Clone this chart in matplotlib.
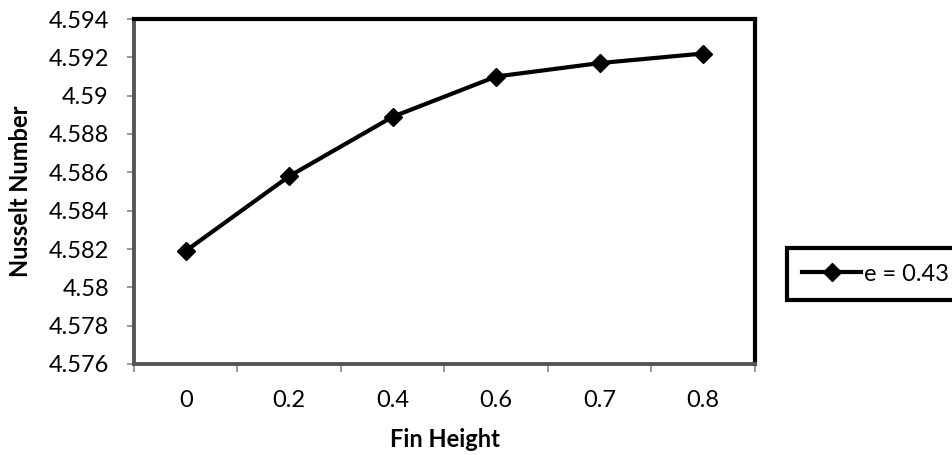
import matplotlib
matplotlib.use("Agg")
import matplotlib.pyplot as plt
import numpy as np

categories = ["0", "0.2", "0.4", "0.6", "0.7", "0.8"]
nusselt = [4.5819, 4.5858, 4.5889, 4.5910, 4.5917, 4.5922]
yticks = [4.576, 4.578, 4.58, 4.582, 4.584, 4.586, 4.588, 4.59, 4.592, 4.594]
ytick_labels = ["4.576", "4.578", "4.58", "4.582", "4.584", "4.586", "4.588", "4.59", "4.592", "4.594"]
series_label = "e = 0.43"

plt.rcParams['font.family'] = ['Lato', 'DejaVu Sans']

FS = 17
fig = plt.figure(figsize=(9.53, 4.55), dpi=100)
L, R, T, B = 134, 755, 19, 364
ax = fig.add_axes([L/953, 1-B/455, (R-L)/953, (B-T)/455])

x = np.arange(len(categories))
line, = ax.plot(x, nusselt, color='black', lw=3, marker='D', markersize=9,
                markerfacecolor='black', markeredgecolor='black', label=series_label)

ax.set_xlim(-0.5, len(categories)-0.5)
ax.set_ylim(yticks[0], yticks[-1])
ax.set_yticks(yticks)
ax.set_yticklabels(ytick_labels, fontsize=FS)
ax.set_xticks(x)
ax.set_xticklabels(categories, fontsize=FS)
ax.tick_params(axis='x', length=0, pad=19)
ax.tick_params(axis='y', length=5, color='#888888', width=1.2, pad=13)
ax.set_xticks(np.arange(-0.5, len(categories)), minor=True)
ax.tick_params(axis='x', which='minor', length=6, color='#888888', width=1.2)

for s in ['top', 'right']:
    ax.spines[s].set_color('black')
    ax.spines[s].set_linewidth(3)
for s in ['left', 'bottom']:
    ax.spines[s].set_color('#555555')
    ax.spines[s].set_linewidth(2.8)

ax.set_ylabel("Nusselt Number", fontsize=FS, fontweight='bold')
ax.yaxis.set_label_coords((32-L)/(R-L), 0.5)
ax.set_xlabel("Fin Height", fontsize=FS, fontweight='bold')
ax.xaxis.set_label_coords(0.5, -(428-B)/(B-T))

leg = fig.legend(handles=[line], labels=[series_label], loc='lower left',
                 bbox_to_anchor=(787/953, 1-300/455), fontsize=FS,
                 frameon=True, fancybox=False, framealpha=1, handlelength=2.5,
                 handletextpad=0.1, borderpad=0.65, borderaxespad=0)
leg.get_frame().set_edgecolor('black')
leg.get_frame().set_linewidth(3)

fig.savefig("out.png", dpi=100)
